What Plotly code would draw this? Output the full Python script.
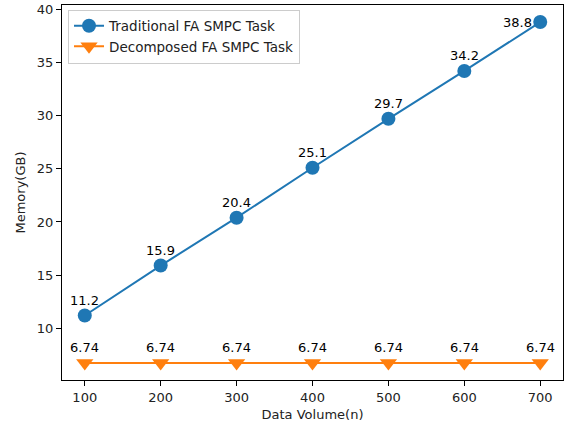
import plotly.graph_objects as go

data_volume = [100, 200, 300, 400, 500, 600, 700]
traditional_mem = [11.2, 15.9, 20.4, 25.1, 29.7, 34.2, 38.8]
decomposed_mem = [6.74, 6.74, 6.74, 6.74, 6.74, 6.74, 6.74]

blue = '#1f77b4'
orange = '#ff7f0e'
font_main = 'DejaVu Sans'

fig = go.Figure()
fig.add_trace(go.Scatter(x=data_volume, y=traditional_mem, mode='lines+markers',
                         name='Traditional FA SMPC Task',
                         line={'color': blue, 'width': 2},
                         marker={'symbol': 'circle', 'size': 14, 'color': blue}))
fig.add_trace(go.Scatter(x=data_volume, y=decomposed_mem, mode='lines+markers',
                         name='Decomposed FA SMPC Task',
                         line={'color': orange, 'width': 2},
                         marker={'symbol': 'triangle-down', 'size': 15, 'color': orange}))

# value labels above each point (last top label sits to the left of its point)
annots = []
for series in (traditional_mem, decomposed_mem):
    for i, (xv, yv) in enumerate(zip(data_volume, series)):
        a = dict(x=xv, y=yv, xref='x', yref='y', text=str(yv),
                 showarrow=False, yanchor='bottom', yshift=6,
                 font={'size': 13, 'color': 'black', 'family': font_main})
        if series is traditional_mem and i == len(series) - 1:
            a.update(yanchor='middle', yshift=0, xanchor='right', xshift=-6)
        annots.append(a)

axis_common = dict(showgrid=False, zeroline=False, showline=True, linecolor='black',
                   linewidth=1, mirror=True, ticks='outside', ticklen=5, tickcolor='black',
                   automargin=False,
                   tickfont={'size': 13, 'color': '#222', 'family': font_main})

fig.update_layout(
    width=570, height=428,
    margin={'l': 62, 'r': 7, 't': 5, 'b': 48},
    paper_bgcolor='white', plot_bgcolor='white',
    font={'family': font_main, 'size': 13, 'color': '#222'},
    annotations=annots,
    showlegend=True,
    legend=dict(x=0.012, y=0.988, xanchor='left', yanchor='top',
                bgcolor='rgba(255,255,255,0.8)', bordercolor='#cccccc', borderwidth=1,
                font={'size': 13.5, 'family': font_main}, tracegroupgap=0),
    xaxis=dict(range=[70, 730], tickvals=data_volume,
               title={'text': 'Data Volume(n)', 'standoff': 6,
                      'font': {'size': 13, 'family': font_main}},
               **axis_common),
    yaxis=dict(range=[5.137, 40.403], tickvals=[10, 15, 20, 25, 30, 35, 40],
               title={'text': 'Memory(GB)', 'standoff': 8,
                      'font': {'size': 13, 'family': font_main}},
               **axis_common),
)

# page body has a default 8px margin; drop it so the figure fills the window
fig.write_html("out.html", config={'displayModeBar': False},
               post_script="document.body.style.margin='0';")
